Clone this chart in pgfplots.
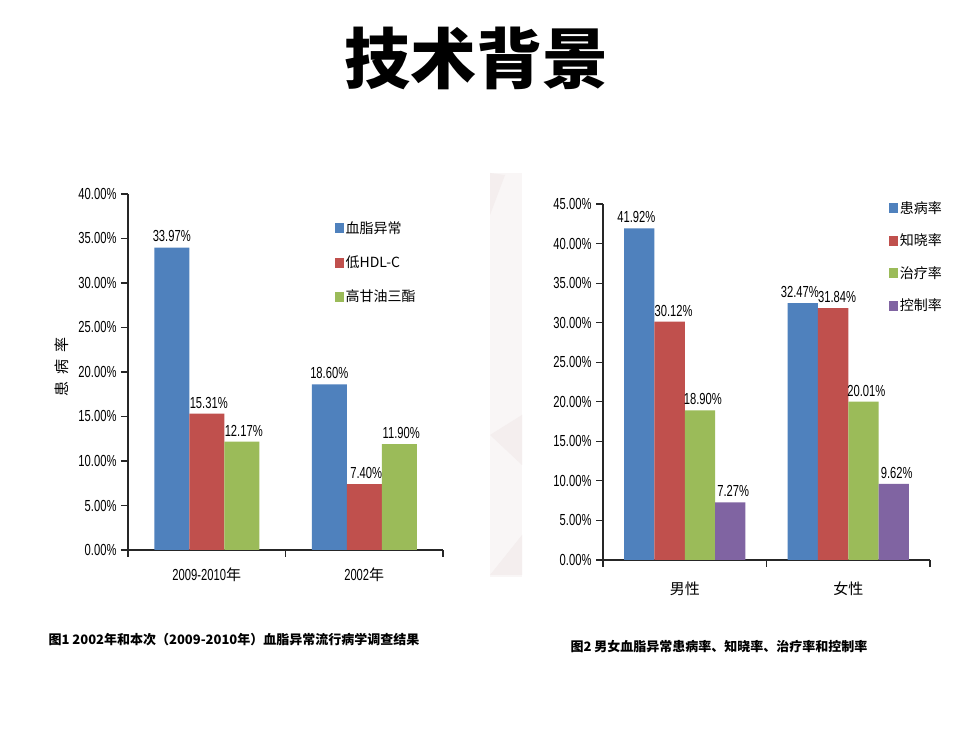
\documentclass[border=0pt]{standalone}
\usepackage{pgfplots}
\pgfplotsset{compat=1.18}
\usepackage{fontspec}
\setmainfont{Noto Sans CJK SC}
\newfontfamily\cjk{Noto Sans CJK SC}
\newfontfamily\narrowfont[FakeStretch=0.7]{Liberation Sans}
\definecolor{cblue}{RGB}{79,129,189}
\definecolor{cred}{RGB}{192,80,77}
\definecolor{cgreen}{RGB}{155,187,89}
\definecolor{cpurple}{RGB}{128,100,162}
\definecolor{wm}{RGB}{249,246,246}
\definecolor{wmd}{RGB}{244,238,238}
\pgfplotsset{
  mybars/.style={
    scale only axis,
    ybar=0pt,
    axis x line*=bottom, axis y line*=left,
    axis line style={-,line width=1.4pt,color=black!85},
    every tick/.style={line width=1.2pt,color=black!85},
    xmin=-0.5,xmax=1.5,
    xtick={-0.5,0.5,1.5}, xticklabels={,,},
    major tick length=7pt,
    tick align=outside,
    ymin=0,
    /pgf/number format/assume math mode=true,
    yticklabel={\narrowfont\pgfmathprintnumber[fixed,fixed zerofill,precision=2]{\tick}\%},
    yticklabel style={font=\fontsize{16}{16}\selectfont,xshift=-1pt},
    nodes near coords={\narrowfont\pgfmathprintnumber[fixed,fixed zerofill,precision=2]{\pgfplotspointmeta}\%},
    nodes near coords style={font=\fontsize{16}{16}\selectfont,color=black,yshift=2pt},
    legend image code/.code={\fill[#1,draw=none] (0pt,-5pt) rectangle (9pt,5pt);},
    legend style={draw=none,fill=none,inner sep=0pt,font=\cjk\fontsize{14}{14}\selectfont,
      nodes={inner sep=1.5pt}},
    legend cell align=left,
    extra x ticks={0,1},
    extra x tick style={major tick length=0pt,
      xticklabel style={font=\cjk\fontsize{15}{15}\selectfont,yshift=-14pt}},
    clip=false,
  }
}
\begin{document}
\begin{tikzpicture}
\useasboundingbox (0,0) rectangle (980pt,735pt);
\fill[white] (0,0) rectangle (980pt,735pt);
% faint watermark strip
\fill[wm] (490pt,158pt) rectangle (522pt,562pt);
\fill[wmd] (490pt,300pt) -- (522pt,270pt) -- (522pt,320pt) -- cycle;
\fill[wmd] (490pt,520pt) -- (505pt,560pt) -- (490pt,562pt) -- cycle;
\fill[wmd] (490pt,160pt) -- (522pt,200pt) -- (522pt,160pt) -- cycle;
\node[font=\cjk\bfseries\fontsize{66}{66}\selectfont] at (476pt,677pt) {技术背景};

\begin{axis}[mybars,
  at={(128pt,185pt)}, anchor=south west,
  width=315pt, height=356pt,
  bar width=35pt,
  ymax=40, ytick={0,5,...,40},
  extra x tick labels={{\narrowfont\fontsize{16}{16}\selectfont 2009-2010}年,{\narrowfont\fontsize{16}{16}\selectfont 2002}年},
  ylabel={患\hspace{7pt}病\hspace{7pt}率},
  ylabel style={font=\cjk\fontsize{15}{15}\selectfont,at={(axis description cs:-0.21,0.514)},anchor=center},
  legend style={at={(axis description cs:0.657,0.927)},anchor=north west,row sep=18pt},
]
\addplot[fill=cblue,draw=none] coordinates {(0,33.97) (1,18.60)};
\addplot[fill=cred,draw=none,nodes near coords style={xshift=2pt}] coordinates {(0,15.31) (1,7.40)};
\addplot[fill=cgreen,draw=none,nodes near coords style={xshift=2pt}] coordinates {(0,12.17) (1,11.90)};
\legend{血脂异常,低HDL-C,高甘油三酯}
\end{axis}

\begin{axis}[mybars,
  at={(603pt,175pt)}, anchor=south west,
  width=327pt, height=356pt,
  bar width=30.3pt,
  ymax=45, ytick={0,5,...,45},
  extra x tick labels={男性,女性},
  extra x tick style={xticklabel style={yshift=-4pt}},
  legend style={at={(axis description cs:0.875,1.011)},anchor=north west,row sep=16pt},
]
\addplot[fill=cblue,draw=none,nodes near coords style={xshift=-3pt}] coordinates {(0,41.92) (1,32.47)};
\addplot[fill=cred,draw=none,nodes near coords style={xshift=4pt}] coordinates {(0,30.12) (1,31.84)};
\addplot[fill=cgreen,draw=none,nodes near coords style={xshift=3pt}] coordinates {(0,18.90) (1,20.01)};
\addplot[fill=cpurple,draw=none,nodes near coords style={xshift=3pt}] coordinates {(0,7.27) (1,9.62)};
\legend{患病率,知晓率,治疗率,控制率}
\end{axis}

\node[font=\cjk\bfseries\fontsize{13}{14}\selectfont,anchor=west] at (45pt,95pt) {图1 2002年和本次（2009-2010年）血脂异常流行病学调查结果};
\node[font=\cjk\bfseries\fontsize{13}{14}\selectfont,anchor=west] at (567pt,88pt) {图2 男女血脂异常患病率、知晓率、治疗率和控制率};
\end{tikzpicture}
\end{document}
